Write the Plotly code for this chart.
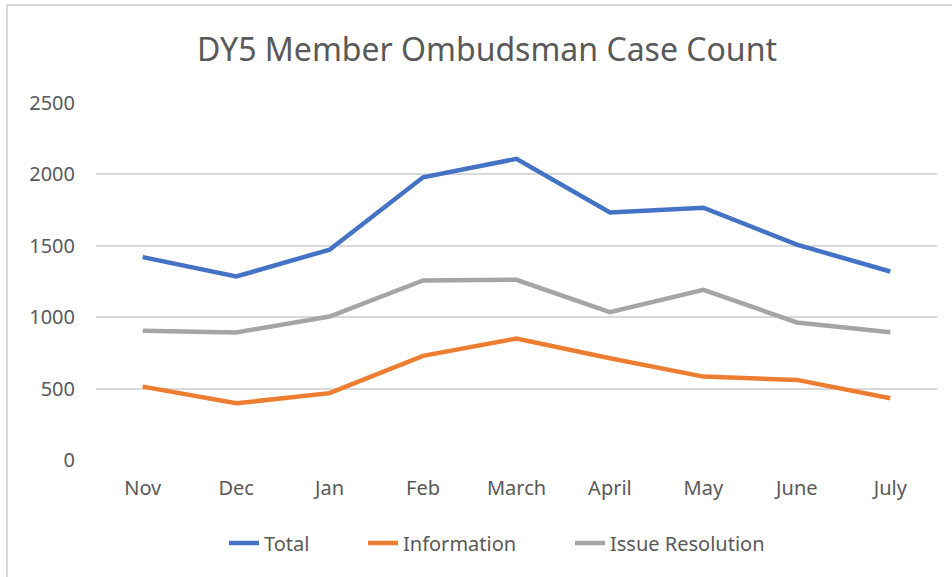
import plotly.graph_objects as go

months = ["Nov", "Dec", "Jan", "Feb", "March", "April", "May", "June", "July"]
total = [1421, 1285, 1473, 1980, 2109, 1734, 1767, 1508, 1320]
information = [514, 397, 468, 729, 851, 713, 584, 561, 433]
issue_resolution = [905, 893, 1005, 1257, 1262, 1035, 1192, 963, 895]
y_ticks = [0, 500, 1000, 1500, 2000, 2500]

FONT = "Noto Sans"
TXT = "#595959"
W, H = 952, 577

series = [("Total", total, "#4472C4", "legend", 264),
          ("Information", information, "#ED7D31", "legend2", 403),
          ("Issue Resolution", issue_resolution, "#A5A5A5", "legend3", 610)]

fig = go.Figure()
legends = {}
for name, vals, col, lg, text_x in series:
    fig.add_trace(go.Scatter(x=months, y=vals, name=name, mode="lines", legend=lg,
                             line=dict(color=col, width=4.5, shape="linear")))
    legends[lg] = dict(orientation="h", x=(text_x - 40) / W, xanchor="left", xref="container",
                       y=1 - 543 / H, yanchor="middle", yref="container",
                       font=dict(family=FONT, size=20, color=TXT), itemwidth=30,
                       bgcolor="rgba(0,0,0,0)")

fig.update_layout(
    width=W, height=H,
    margin=dict(l=96, r=15, t=103, b=117),
    paper_bgcolor="white", plot_bgcolor="white",
    font=dict(family=FONT, color=TXT, size=20),
    title=dict(text="DY5 Member Ombudsman Case Count", x=487 / W, xanchor="center",
               y=1 - 50 / H, yanchor="middle", yref="container",
               font=dict(family=FONT, size=32, color=TXT)),
    showlegend=True,
    xaxis=dict(type="category", range=[-0.5, 8.5], showgrid=False, zeroline=False,
               showline=False, ticks="", ticklabelstandoff=14,
               tickfont=dict(family=FONT, size=20, color=TXT)),
    yaxis=dict(range=[0, 2500], tickvals=y_ticks, showgrid=True, gridcolor="#D9D9D9",
               gridwidth=1.5, zeroline=False, showline=False, ticks="",
               ticklabelstandoff=20, tickfont=dict(family=FONT, size=20, color=TXT)),
    **legends,
)

# chart frame (visible top and left edges)
pw, ph = W - 96 - 15, H - 103 - 117
fig.add_shape(type="line", xref="paper", yref="paper",
              x0=(7 - 96) / pw, x1=1 + 20 / pw, y0=1 + (103 - 5) / ph, y1=1 + (103 - 5) / ph,
              line=dict(color="#D9D9D9", width=2))
fig.add_shape(type="line", xref="paper", yref="paper",
              x0=(7 - 96) / pw, x1=(7 - 96) / pw, y0=1 + (103 - 5) / ph, y1=-125 / ph,
              line=dict(color="#D9D9D9", width=2))

fig.write_html("out.html", config={"displayModeBar": False},
               post_script="document.body.style.margin='0px';")
